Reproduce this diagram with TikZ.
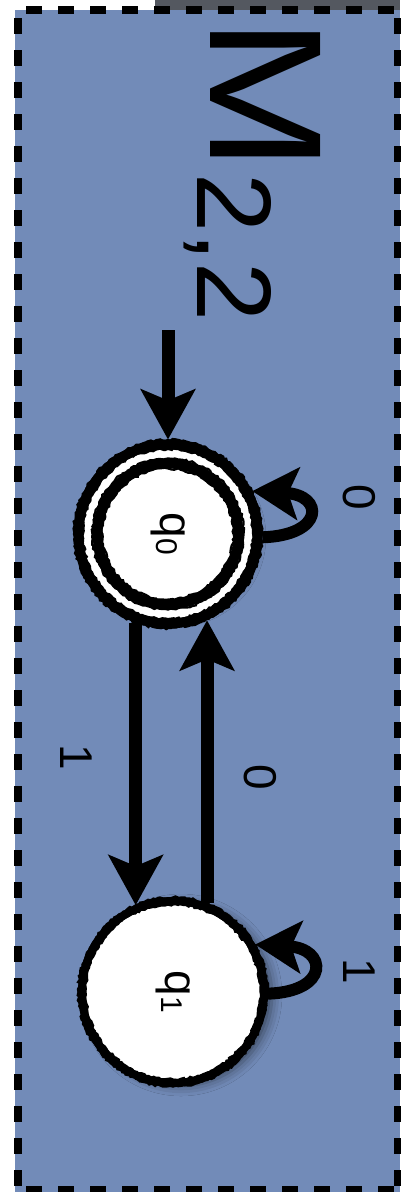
\documentclass[tikz,border=0pt]{standalone}
\usepackage{fontspec}
\usepackage{graphicx}
\setmainfont{Liberation Sans}
\usetikzlibrary{arrows.meta,calc,shadows.blur,decorations.pathmorphing}
\definecolor{bgblue}{RGB}{114,139,184}
\definecolor{topgray}{RGB}{84,88,96}
\newcommand{\statefont}{\fontsize{46}{46}\selectfont}
\newcommand{\subfont}{\fontsize{30}{30}\selectfont}
\begin{document}
\pgfmathsetseed{7}
\begin{tikzpicture}[x=1pt,y=-1pt,
  edge/.style={line width=13pt, -{Stealth[length=50pt,width=54pt,inset=11pt]}},
  loopedge/.style={line width=12pt, -{Stealth[length=46pt,width=52pt,inset=10pt]}},
  rot/.style={rotate=-90, inner sep=0pt},
  lbl/.style={rot, font=\fontsize{46}{46}\selectfont},
  state/.style={circle, fill=white, draw=black, inner sep=0pt,
    blur shadow={shadow xshift=8pt, shadow yshift=-3pt, shadow blur radius=10pt, shadow opacity=50}},
  rough/.style={draw=black, line width=2.2pt, decorate,
    decoration={random steps, segment length=2.5pt, amplitude=1.1pt}},
  border/.style={line width=8pt, dash pattern=on 16pt off 16pt, dash phase=24pt}
]
\useasboundingbox (0,0) rectangle (400,1192);
\fill[white] (0,0) rectangle (400,1192);
\fill[topgray] (155,0) rectangle (400,10);
\fill[bgblue] (15,10) rectangle (400,1192);
% dashed frame
\draw[border] (18,10) -- (18,1190);
\draw[border] (18,10) -- (398,10);
\draw[border] (398,10) -- (398,1190);
\draw[border] (18,1190) -- (398,1190);
% title
\node[rot, anchor=base west, font=\fontsize{160}{160}\selectfont] (title) at (210,17)
  {\scalebox{1.16}[1]{M}\hspace{2pt}\raisebox{-13pt}{\fontsize{106}{106}\selectfont 2,2}};
% states
\node[state, minimum size=160pt, line width=10pt, double=white, double distance=9pt, outer sep=14.5pt] (q0) at (168,534)
  {\rotatebox{-90}{\statefont q\lower4pt\hbox{\subfont 0}}};
\node[state, minimum size=182pt, line width=8pt, outer sep=4pt] (q1) at (173,992)
  {\rotatebox{-90}{\statefont q\lower4pt\hbox{\subfont 1}}};
% sketchy ring edges
\path[rough] (q0.center) circle [radius=94pt];
\path[rough] (q0.center) circle [radius=85pt];
\path[rough] (q0.center) circle [radius=75.5pt];
\path[rough] (q0.center) circle [radius=65.5pt];
\path[rough] (q1.center) circle [radius=94.5pt];
\path[rough] (q1.center) circle [radius=87.5pt];
% start arrow
\coordinate (s) at (168,330);
\draw[edge] (s) -- (q0.north);
% transitions
\draw[edge] (q0.-110) -- (q0.-110 |- q1.114);
\draw[edge] (q1.69) -- (q1.69 |- q0.-66);
\draw[loopedge] (q0.-2) .. controls +(62,-2) and +(72,4) .. (q0.27);
\draw[loopedge] (q1.-1) .. controls +(62,-2) and +(72,4) .. (q1.30);
% labels
\node[lbl] (l1) at (76,757) {1};
\node[lbl] (l0) at (260,777) {0};
\node[lbl] (lq0) at (359,497) {0};
\node[lbl] (lq1) at (359,971) {1};
\end{tikzpicture}
\end{document}
